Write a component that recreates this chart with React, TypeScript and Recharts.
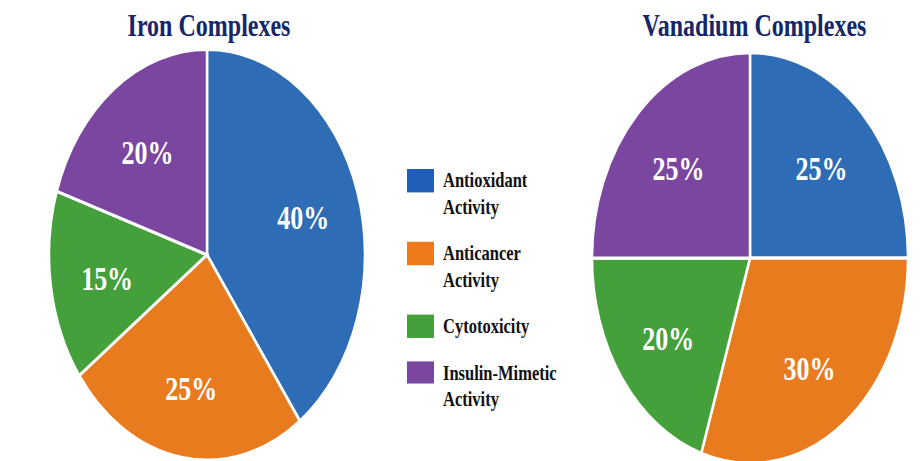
import React from "react";
import { PieChart, Pie, Cell } from "recharts";

const categories = [
  "Antioxidant Activity",
  "Anticancer Activity",
  "Cytotoxicity",
  "Insulin-Mimetic Activity",
];
const ironValues = [40, 25, 15, 20];
const vanadiumValues = [25, 30, 20, 25];
const colors = ["#2e6db5", "#e97b1f", "#44a03a", "#7b46a0"];
const legendColors = ["#1f5fb8", "#ee7a1c", "#44a03a", "#7b46a0"];

// the original picture is stretched vertically; draw at native size then scale
const STRETCH = 1.3;
const W = 924;
const H = 355;
const RADIAN = Math.PI / 180;
const SERIF = "'Liberation Serif', 'Times New Roman', Times, serif";

const ironData = categories.map((name, i) => ({ name, value: ironValues[i] }));
const vanadiumData = categories.map((name, i) => ({ name, value: vanadiumValues[i] }));

const renderLabel = (props: any) => {
  const { cx, cy, midAngle, outerRadius, value } = props;
  const r = outerRadius * 0.64;
  const x = cx + r * Math.cos(-midAngle * RADIAN);
  const y = cy + r * Math.sin(-midAngle * RADIAN) + 3;
  return (
    <text
      x={x}
      y={y}
      fill="#fff"
      textAnchor="middle"
      dominantBaseline="central"
      style={{ fontFamily: SERIF, fontWeight: "bold", fontSize: 26 }}
    >
      {value}%
    </text>
  );
};

const titleStyle: React.CSSProperties = {
  position: "absolute",
  top: 8.4,
  width: 300,
  textAlign: "center",
  fontFamily: SERIF,
  fontWeight: "bold",
  fontSize: 24,
  lineHeight: "24px",
  color: "#15266b",
  whiteSpace: "nowrap",
};

export default function App() {
  return (
    <div
      style={{
        position: "absolute",
        left: 0,
        top: 0,
        width: W,
        height: H,
        transform: `scaleY(${STRETCH})`,
        transformOrigin: "0 0",
        background: "#fff",
        fontFamily: SERIF,
      }}
    >
      <div style={{ ...titleStyle, left: 209 - 150 }}>Iron Complexes</div>
      <div style={{ ...titleStyle, left: 754.5 - 150 }}>Vanadium Complexes</div>

      <PieChart
        width={W}
        height={H}
        margin={{ top: 0, right: 0, bottom: 0, left: 0 }}
        style={{ position: "absolute", left: 0, top: 0 }}
      >
        <Pie
          data={ironData}
          dataKey="value"
          nameKey="name"
          cx={207}
          cy={196}
          outerRadius={158}
          startAngle={90}
          endAngle={-270}
          stroke="#fff"
          strokeWidth={2.5}
          label={renderLabel}
          labelLine={false}
          isAnimationActive={false}
        >
          {ironData.map((entry, index) => (
            <Cell key={index} fill={colors[index]} />
          ))}
        </Pie>
        <Pie
          data={vanadiumData}
          dataKey="value"
          nameKey="name"
          cx={750}
          cy={198.5}
          outerRadius={158}
          startAngle={90}
          endAngle={-270}
          stroke="#fff"
          strokeWidth={2.5}
          label={renderLabel}
          labelLine={false}
          isAnimationActive={false}
        >
          {vanadiumData.map((entry, index) => (
            <Cell key={index} fill={colors[index]} />
          ))}
        </Pie>
      </PieChart>

      <div
        style={{
          position: "absolute",
          left: 407,
          top: 129,
          display: "flex",
          flexDirection: "column",
          gap: 15,
        }}
      >
        {categories.map((name, i) => (
          <div key={name} style={{ display: "flex", alignItems: "flex-start" }}>
            <div
              style={{
                width: 27,
                height: 17.7,
                marginTop: 1,
                background: legendColors[i],
                flexShrink: 0,
              }}
            />
            <div
              style={{
                marginLeft: 9,
                width: 120,
                fontWeight: "bold",
                fontSize: 16.5,
                lineHeight: "20.5px",
                color: "#111",
              }}
            >
              {name}
            </div>
          </div>
        ))}
      </div>
    </div>
  );
}
